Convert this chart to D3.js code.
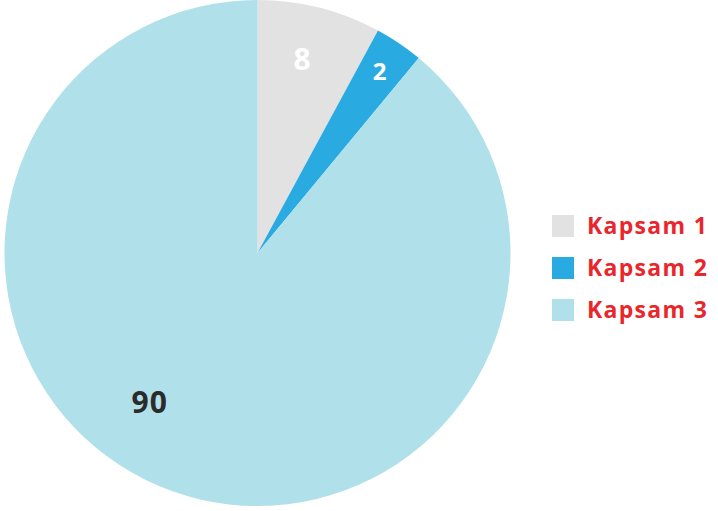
<!DOCTYPE html>
<html>
<head>
<meta charset="utf-8">
<script src="https://cdn.jsdelivr.net/npm/d3@7"></script>
<style>
  body { margin: 0; background: #fff; }
  svg { display: block; font-family: "Open Sans", "Lato", sans-serif; }
</style>
</head>
<body>
<div class="chart"></div>
<script>
// data
const categories = ["Kapsam 1", "Kapsam 2", "Kapsam 3"];
const values = [7.9, 3.1, 89];
const valueLabels = ["8", "2", "90"];
const colors = ["#e2e2e2", "#29abe2", "#b0e0e9"];

const config = {
  W: 718, H: 511,
  cx: 257.5, cy: 253, r: 253,
  labelR: [199, 219, 184],
  labelShift: [-0.02, 0, 0.28], // radians offset from mid-angle
  labelSize: [30, 24, 30],
  labelColor: ["#fff", "#fff", "#2b2b2b"],
  legendX: 552, legendY: 215, legendStep: 42, box: 22
};

const svg = d3.select('.chart').append('svg')
  .attr('width', config.W)
  .attr('height', config.H);

const g = svg.append('g')
  .attr('transform', `translate(${config.cx},${config.cy})`);

const pie = d3.pie().sort(null).value(d => d);
const arcs = pie(values);
const arc = d3.arc().innerRadius(0).outerRadius(config.r);

// slices
g.selectAll('path.slice')
  .data(arcs)
  .enter()
  .append('path')
  .attr('class', 'slice')
  .attr('d', arc)
  .attr('fill', (d, i) => colors[i]);

// value labels
g.selectAll('text.val')
  .data(arcs)
  .enter()
  .append('text')
  .attr('class', 'val')
  .attr('transform', (d, i) => {
    const a = (d.startAngle + d.endAngle) / 2 + config.labelShift[i];
    const rr = config.labelR[i];
    return `translate(${rr * Math.sin(a)},${-rr * Math.cos(a)})`;
  })
  .attr('text-anchor', 'middle')
  .attr('dy', '0.36em')
  .attr('fill', (d, i) => config.labelColor[i])
  .attr('font-weight', 700)
  .attr('font-size', (d, i) => config.labelSize[i])
  .attr('letter-spacing', 1)
  .text((d, i) => valueLabels[i]);

// legend
const legend = svg.append('g')
  .attr('class', 'legend')
  .attr('transform', `translate(${config.legendX},${config.legendY})`);

const item = legend.selectAll('g.item')
  .data(categories)
  .enter()
  .append('g')
  .attr('class', 'item')
  .attr('transform', (d, i) => `translate(0,${i * config.legendStep})`);

item.append('rect')
  .attr('width', config.box)
  .attr('height', config.box)
  .attr('fill', (d, i) => colors[i]);

item.append('text')
  .attr('x', 35)
  .attr('y', config.box / 2)
  .attr('dy', '0.36em')
  .attr('fill', '#e8262b')
  .attr('font-weight', 700)
  .attr('font-size', 23)
  .attr('letter-spacing', 1.3)
  .text(d => d);
</script>
</body>
</html>
